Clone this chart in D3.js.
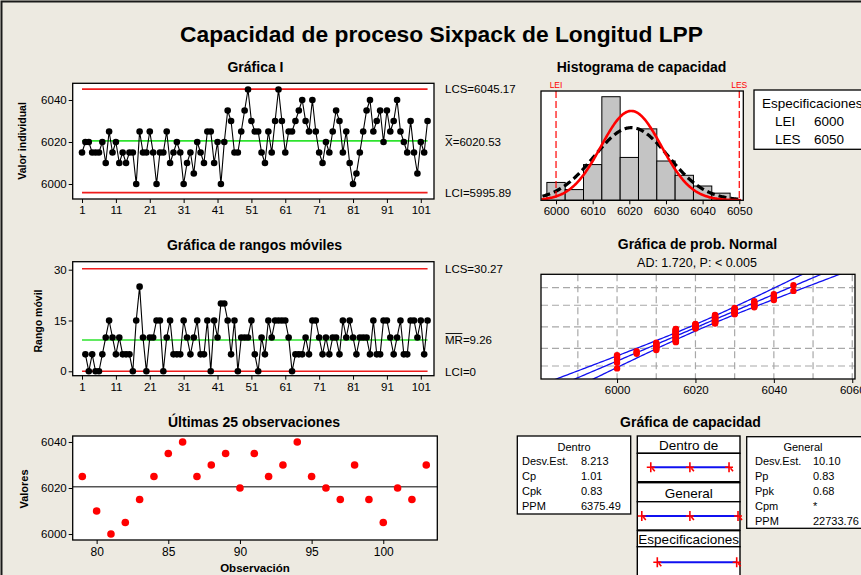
<!DOCTYPE html>
<html><head><meta charset="utf-8">
<script src="https://cdn.jsdelivr.net/npm/d3@7"></script>
<style>body{margin:0;background:#EDEAE1;}svg{display:block;}</style>
</head><body><svg id="c" width="861" height="575"></svg>
<script>
// ---------------- DATA ----------------
const observations = [
 6015,6020,6020,6015,6015,6015,6020,6010,6025,6015,
 6020,6010,6015,6010,6015,6015,6000,6025,6015,6015,
 6025,6015,6000,6015,6015,6025,6010,6015,6020,6015,
 6000,6010,6015,6005,6020,6015,6010,6025,6025,6010,
 6020,6000,6020,6035,6030,6015,6015,6025,6035,6045,
 6030,6025,6025,6015,6010,6025,6015,6030,6045,6030,
 6015,6025,6025,6030,6035,6040,6030,6025,6040,6025,
 6015,6010,6020,6015,6025,6035,6030,6015,6025,6010,
 6000,6005,6015,6025,6035,6040,6025,6030,6035,6020,
 6035,6025,6030,6040,6025,6020,6015,6030,6015,6005,
 6020,6015,6030];
const iXTicks = [1,11,21,31,41,51,61,71,81,91,101];
const iYTicks = [6000,6020,6040];
const mrYTicks = [0,15,30];
const lastXTicks = [80,85,90,95,100];
const lastYTicks = [6000,6020,6040];
const histTicks = [6000,6010,6020,6030,6040,6050];
const probTicks = [6000,6020,6040,6060];
const probGridX = [5990,6000,6010,6020,6030,6040,6050,6060];
const probGridP = [1,10,50,90,99];
const iLimits = [6045.17, 6020.53, 5995.89];       // LCS, center, LCI
const iLimitLabels = ["LCS=6045.17", "=6020.53", "LCI=5995.89"];
const mrLimits = [30.27, 9.26, 0];
const mrLimitLabels = ["LCS=30.27", "=9.26", "LCI=0"];
const specNames = ["LEI", "LES"];
const specValues = [6000, 6050];
const meanValue = 6020.53;
const sdWithin = 8.213;
const sdOverall = 10.10;
const withinNames = ["Desv.Est.", "Cp", "Cpk", "PPM"];
const withinValues = ["8.213", "1.01", "0.83", "6375.49"];
const overallNames = ["Desv.Est.", "Pp", "Ppk", "Cpm", "PPM"];
const overallValues = ["10.10", "0.83", "0.68", "*", "22733.76"];
const adText = "AD: 1.720, P: < 0.005";

// ---------------- HELPERS ----------------
const F = '"Liberation Sans", Arial, sans-serif';
const svg = d3.select('#c');
const RED = '#EE1C1C', GREEN = '#2EE32E', BLUE = '#1010F0';
svg.append('rect').attr('width',861).attr('height',575).attr('fill','#EDEAE1');
svg.append('rect').attr('x',1.5).attr('y',1.5).attr('width',900).attr('height',600)
  .attr('fill','none').attr('stroke','#1a1a1a').attr('stroke-width',2);
const defs = svg.append('defs');
let clipN = 0;
function clip(x0,y0,x1,y1){
  const id='cl'+(clipN++);
  defs.append('clipPath').attr('id',id).append('rect').attr('x',x0).attr('y',y0).attr('width',x1-x0).attr('height',y1-y0);
  return 'url(#'+id+')';
}
function txt(x,y,s,o={}){
  const t = svg.append('text').attr('x',x).attr('y',y).text(s)
    .attr('font-family',F).attr('font-size',o.size||11)
    .attr('font-weight',o.bold?'bold':'normal')
    .attr('text-anchor',o.anchor||'start').attr('fill',o.fill||'#000');
  if(o.rotate) t.attr('transform',`rotate(-90,${x},${y})`);
  return t;
}
function frameBg(x0,y0,x1,y1){
  svg.append('rect').attr('x',x0).attr('y',y0).attr('width',x1-x0).attr('height',y1-y0).attr('fill','#fff');
}
function frameBorder(x0,y0,x1,y1){
  svg.append('rect').attr('x',x0).attr('y',y0).attr('width',x1-x0).attr('height',y1-y0)
    .attr('fill','none').attr('stroke','#000').attr('stroke-width',1.3);
}
function styleAxis(g, size){
  g.attr('font-family',F).attr('font-size',size||11.5);
  g.select('.domain').remove();
  g.selectAll('line').attr('stroke','#000');
  g.selectAll('text').attr('fill','#000');
}
function barLabel(x,y,pre,bar,rest){
  const t = svg.append('text').attr('x',x).attr('y',y).attr('font-family',F).attr('font-size',11.5);
  const a = t.append('tspan').text(bar);
  t.append('tspan').text(rest);
  const w = a.node().getComputedTextLength();
  svg.append('line').attr('x1',x+0.5).attr('x2',x+w-0.5).attr('y1',y-10.5).attr('y2',y-10.5)
    .attr('stroke','#000').attr('stroke-width',0.9);
}
function qnorm(p){
  const a=[-3.969683028665376e+01,2.209460984245205e+02,-2.759285104469687e+02,1.383577518672690e+02,-3.066479806614716e+01,2.506628277459239e+00];
  const b=[-5.447609879822406e+01,1.615858368580409e+02,-1.556989798598866e+02,6.680131188771972e+01,-1.328068155288572e+01];
  const c=[-7.784894002430293e-03,-3.223964580411365e-01,-2.400758277161838e+00,-2.549732539343734e+00,4.374664141464968e+00,2.938163982698783e+00];
  const d=[7.784695709041462e-03,3.224671290700398e-01,2.445134137142996e+00,3.754408661907416e+00];
  const pl=0.02425; let q,r;
  if(p<pl){q=Math.sqrt(-2*Math.log(p));return (((((c[0]*q+c[1])*q+c[2])*q+c[3])*q+c[4])*q+c[5])/((((d[0]*q+d[1])*q+d[2])*q+d[3])*q+1);}
  if(p<=1-pl){q=p-0.5;r=q*q;return (((((a[0]*r+a[1])*r+a[2])*r+a[3])*r+a[4])*r+a[5])*q/(((((b[0]*r+b[1])*r+b[2])*r+b[3])*r+b[4])*r+1);}
  q=Math.sqrt(-2*Math.log(1-p));return -(((((c[0]*q+c[1])*q+c[2])*q+c[3])*q+c[4])*q+c[5])/((((d[0]*q+d[1])*q+d[2])*q+d[3])*q+1);
}
const n = observations.length;
const idx = d3.range(1, n+1);

// ---------------- TITLE ----------------
txt(441.5, 42, 'Capacidad de proceso Sixpack de Longitud LPP', {size:22, bold:true, anchor:'middle'})
  .attr('textLength',523).attr('lengthAdjust','spacingAndGlyphs');

// ---------------- I CHART ----------------
{
  const X0=72.7,Y0=83.3,X1=434,Y1=199;
  const x = d3.scaleLinear().domain([-1.75,104.9]).range([X0,X1]);
  const y = d3.scaleLinear().domain([5992.86,6047.95]).range([Y1,Y0]);
  frameBg(X0,Y0,X1,Y1);
  iLimits.forEach((v,i)=>{
    svg.append('line').attr('x1',x(1)).attr('x2',x(n)).attr('y1',y(v)).attr('y2',y(v))
      .attr('stroke', i===1?GREEN:RED).attr('stroke-width',1.6);
  });
  svg.append('path').datum(observations)
    .attr('d', d3.line().x((d,i)=>x(i+1)).y(d=>y(d)))
    .attr('fill','none').attr('stroke','#000').attr('stroke-width',1.1);
  svg.append('g').selectAll('circle').data(observations).join('circle')
    .attr('cx',(d,i)=>x(i+1)).attr('cy',d=>y(d)).attr('r',3.3).attr('fill','#000');
  frameBorder(X0,Y0,X1,Y1);
  styleAxis(svg.append('g').attr('transform',`translate(0,${Y1})`)
    .call(d3.axisBottom(x).tickValues(iXTicks).tickSize(4).tickPadding(3).tickSizeOuter(0)));
  styleAxis(svg.append('g').attr('transform',`translate(${X0},0)`)
    .call(d3.axisLeft(y).tickValues(iYTicks).tickSize(4).tickPadding(2).tickFormat(d3.format('d'))));
  txt(255.5, 72, 'Gráfica I', {size:14, bold:true, anchor:'middle'});
  txt(26, 141, 'Valor individual', {size:10.5, bold:true, anchor:'middle', rotate:true});
  txt(445, 93, iLimitLabels[0], {size:11.5});
  barLabel(445, 146, '', 'X', iLimitLabels[1]);
  txt(445, 197, iLimitLabels[2], {size:11.5});
}

// ---------------- MR CHART ----------------
{
  const X0=72.7,Y0=261.7,X1=434,Y1=375.7;
  const x = d3.scaleLinear().domain([-1.75,104.9]).range([X0,X1]);
  const y = d3.scaleLinear().domain([-1.3,32.36]).range([Y1,Y0]);
  const mr = observations.slice(1).map((v,i)=>({i:i+2, v:Math.abs(v-observations[i])}));
  frameBg(X0,Y0,X1,Y1);
  mrLimits.forEach((v,i)=>{
    svg.append('line').attr('x1',x(1)).attr('x2',x(n)).attr('y1',y(v)).attr('y2',y(v))
      .attr('stroke', i===1?GREEN:RED).attr('stroke-width',1.6);
  });
  svg.append('path').datum(mr)
    .attr('d', d3.line().x(d=>x(d.i)).y(d=>y(d.v)))
    .attr('fill','none').attr('stroke','#000').attr('stroke-width',1.1);
  svg.append('g').selectAll('circle').data(mr).join('circle')
    .attr('cx',d=>x(d.i)).attr('cy',d=>y(d.v)).attr('r',3.3).attr('fill','#000');
  frameBorder(X0,Y0,X1,Y1);
  styleAxis(svg.append('g').attr('transform',`translate(0,${Y1})`)
    .call(d3.axisBottom(x).tickValues(iXTicks).tickSize(4).tickPadding(3).tickSizeOuter(0)));
  styleAxis(svg.append('g').attr('transform',`translate(${X0},0)`)
    .call(d3.axisLeft(y).tickValues(mrYTicks).tickSize(4).tickPadding(2)));
  txt(254.5, 250, 'Gráfica de rangos móviles', {size:14, bold:true, anchor:'middle'});
  txt(42, 321, 'Rango móvil', {size:10.5, bold:true, anchor:'middle', rotate:true});
  txt(445, 273, mrLimitLabels[0], {size:11.5});
  barLabel(445, 344, '', 'MR', mrLimitLabels[1]);
  txt(445, 376, mrLimitLabels[2], {size:11.5});
}

// ---------------- LAST 25 ----------------
{
  const X0=72.7,Y0=436,X1=437.3,Y1=540;
  const x = d3.scaleLinear().domain([78.33,103.77]).range([X0,X1]);
  const y = d3.scaleLinear().domain([5997.4,6042.6]).range([Y1,Y0]);
  const last = idx.slice(-25).map(i=>({i, v:observations[i-1]}));
  frameBg(X0,Y0,X1,Y1);
  svg.append('line').attr('x1',X0).attr('x2',X1).attr('y1',y(meanValue)).attr('y2',y(meanValue))
    .attr('stroke','#555').attr('stroke-width',1.5);
  svg.append('g').selectAll('circle').data(last).join('circle')
    .attr('cx',d=>x(d.i)).attr('cy',d=>y(d.v)).attr('r',3.8).attr('fill','#F00');
  frameBorder(X0,Y0,X1,Y1);
  styleAxis(svg.append('g').attr('transform',`translate(0,${Y1})`)
    .call(d3.axisBottom(x).tickValues(lastXTicks).tickSize(4).tickPadding(3).tickSizeOuter(0)), 12);
  styleAxis(svg.append('g').attr('transform',`translate(${X0},0)`)
    .call(d3.axisLeft(y).tickValues(lastYTicks).tickSize(4).tickPadding(2).tickFormat(d3.format('d'))));
  txt(254, 427, 'Últimas 25 observaciones', {size:14, bold:true, anchor:'middle'});
  txt(28, 489, 'Valores', {size:11, bold:true, anchor:'middle', rotate:true});
  txt(255, 572, 'Observación', {size:11.5, bold:true, anchor:'middle'});
}

// ---------------- HISTOGRAM ----------------
{
  const X0=541,Y0=91,X1=743.3,Y1=200.3;
  const x = d3.scaleLinear().domain([5995.9,6051.1]).range([X0,X1]);
  const y = d3.scaleLinear().domain([0,30.6]).range([Y1,Y0]);
  const bins = d3.bin().domain([5997.5,6047.5]).thresholds(d3.range(6002.5,6047.5,5))(observations);
  frameBg(X0,Y0,X1,Y1);
  svg.append('g').selectAll('rect').data(bins).join('rect')
    .attr('x',d=>x(d.x0)).attr('width',d=>x(d.x1)-x(d.x0))
    .attr('y',d=>y(d.length)).attr('height',d=>y(0)-y(d.length))
    .attr('fill','#C4C4C4').attr('stroke','#000').attr('stroke-width',1);
  const cp = clip(X0,Y0,X1,Y1);
  const dens = (v,s)=> n*5/(s*Math.sqrt(2*Math.PI))*Math.exp(-0.5*((v-meanValue)/s)**2);
  const xsO = d3.range(5996.3, 6051.0, 0.25);
  const xsW = d3.range(5996.0, 6050.6, 0.25);
  svg.append('path').datum(xsO).attr('clip-path',cp)
    .attr('d', d3.line().x(v=>x(v)).y(v=>y(dens(v,sdOverall))))
    .attr('fill','none').attr('stroke','#000').attr('stroke-width',3.2).attr('stroke-dasharray','8,4');
  svg.append('path').datum(xsW).attr('clip-path',cp)
    .attr('d', d3.line().x(v=>x(v)).y(v=>y(dens(v,sdWithin))))
    .attr('fill','none').attr('stroke','#F00').attr('stroke-width',2.6);
  specValues.forEach((v,i)=>{
    svg.append('line').attr('x1',x(v)).attr('x2',x(v)).attr('y1',Y0).attr('y2',Y1)
      .attr('stroke','#F00').attr('stroke-width',1.2).attr('stroke-dasharray','7,3');
    txt(x(v), 88, specNames[i], {size:8.5, anchor:'middle', fill:'#F00'});
  });
  frameBorder(X0,Y0,X1,Y1);
  styleAxis(svg.append('g').attr('transform',`translate(0,${Y1})`)
    .call(d3.axisBottom(x).tickValues(histTicks).tickSize(4).tickPadding(3).tickSizeOuter(0)).call(g=>g.selectAll('text').text(d=>d)));
  txt(641.5, 72, 'Histograma de capacidad', {size:14, bold:true, anchor:'middle'});
  // spec box
  svg.append('rect').attr('x',754).attr('y',90).attr('width',200).attr('height',59.3)
    .attr('fill','#fff').attr('stroke','#000').attr('stroke-width',1.3);
  txt(762, 108, 'Especificaciones', {size:13.5});
  specNames.forEach((s,i)=>{
    txt(775, 126+i*17.5, s, {size:13.5});
    txt(814, 126+i*17.5, String(specValues[i]), {size:13.5});
  });
}

// ---------------- NORMAL PROB PLOT ----------------
{
  const X0=541,Y0=274.3,X1=855,Y1=379;
  const x = d3.scaleLinear().domain([5980.6,6060.7]).range([X0,X1]);
  const y = d3.scaleLinear().domain([-3.10,3.12]).range([Y1,Y0]);
  frameBg(X0,Y0,X1,Y1);
  const cp = clip(X0,Y0,X1,Y1);
  svg.append('g').selectAll('line').data(probGridX).join('line')
    .attr('x1',d=>x(d)).attr('x2',d=>x(d)).attr('y1',Y0).attr('y2',Y1)
    .attr('stroke','#A8A8A8').attr('stroke-width',1.2).attr('stroke-dasharray','7,4');
  svg.append('g').selectAll('line').data(probGridP).join('line')
    .attr('x1',X0).attr('x2',X1).attr('y1',d=>y(qnorm(d/100))).attr('y2',d=>y(qnorm(d/100)))
    .attr('stroke','#A8A8A8').attr('stroke-width',1.2).attr('stroke-dasharray','7,4');
  const zs = d3.range(-3.4, 3.41, 0.05);
  const band = z => 1.96*sdOverall*Math.sqrt(1/n + z*z/(2*(n-1)));
  [-1,0,1].forEach(k=>{
    svg.append('path').datum(zs).attr('clip-path',cp)
      .attr('d', d3.line().x(z=>x(meanValue+sdOverall*z + k*band(z))).y(z=>y(z)))
      .attr('fill','none').attr('stroke',BLUE).attr('stroke-width',1.3);
  });
  const sorted = observations.slice().sort(d3.ascending);
  svg.append('g').selectAll('circle').data(sorted).join('circle')
    .attr('cx',d=>x(d)).attr('cy',(d,i)=>y(qnorm((i+1-0.3)/(n+0.4)))).attr('r',3.2).attr('fill','#F00');
  frameBorder(X0,Y0,X1,Y1);
  styleAxis(svg.append('g').attr('transform',`translate(0,${Y1})`)
    .call(d3.axisBottom(x).tickValues(probTicks).tickSize(4).tickPadding(3).tickSizeOuter(0)).call(g=>g.selectAll('text').text(d=>d)));
  txt(697.5, 249, 'Gráfica de prob. Normal', {size:14, bold:true, anchor:'middle'});
  txt(697, 267, adText, {size:12.5, anchor:'middle'});
}

// ---------------- CAPABILITY PLOT ----------------
{
  txt(690.5, 427, 'Gráfica de capacidad', {size:14, bold:true, anchor:'middle'});
  // within box
  svg.append('rect').attr('x',517.3).attr('y',436).attr('width',113.4).attr('height',78)
    .attr('fill','#fff').attr('stroke','#000').attr('stroke-width',1.3);
  txt(574, 451, 'Dentro', {size:11, anchor:'middle'});
  withinNames.forEach((s,i)=>{ txt(522, 465+i*15, s, {size:11}); txt(581, 465+i*15, withinValues[i], {size:11}); });
  // overall box
  svg.append('rect').attr('x',746.7).attr('y',436.7).attr('width',150).attr('height',91.6)
    .attr('fill','#fff').attr('stroke','#000').attr('stroke-width',1.3);
  txt(803, 451, 'General', {size:11, anchor:'middle'});
  overallNames.forEach((s,i)=>{ txt(755, 465+i*15, s, {size:11}); txt(813, 465+i*15, overallValues[i], {size:11}); });
  // middle boxes
  const MX0=637.3, MX1=740;
  const boxes = [[436,17.3,'Dentro de',449.8],[453.3,28.4],[482.7,19,'General',497.5],[501.7,28.3],[530.7,16,'Especificaciones',544],[546.7,40]];
  boxes.forEach(b=>{
    svg.append('rect').attr('x',MX0).attr('y',b[0]).attr('width',MX1-MX0).attr('height',b[1])
      .attr('fill','#fff').attr('stroke','#000').attr('stroke-width',1.4);
    if(b[2]) txt((MX0+MX1)/2, b[3], b[2], {size:13.5, anchor:'middle'});
  });
  const xc = d3.scaleLinear().domain([6000,6050]).range([657.3,736.7]);
  const intervals = [
    {y:467.3, lo:meanValue-3*sdWithin, hi:meanValue+3*sdWithin, mid:meanValue},
    {y:516.0, lo:meanValue-3*sdOverall, hi:meanValue+3*sdOverall, mid:meanValue},
    {y:562.3, lo:specValues[0], hi:specValues[1], mid:null}
  ];
  intervals.forEach(iv=>{
    svg.append('line').attr('x1',xc(iv.lo)).attr('x2',xc(iv.hi)).attr('y1',iv.y).attr('y2',iv.y)
      .attr('stroke',BLUE).attr('stroke-width',2);
    const marks = iv.mid===null ? [iv.lo,iv.hi] : [iv.lo,iv.mid,iv.hi];
    marks.forEach(m=>{
      const cx = xc(m);
      svg.append('path').attr('d',`M${cx-4},${iv.y}H${cx+4}M${cx},${iv.y-5}V${iv.y+5}M${cx+1.5},${iv.y+1}L${cx+4},${iv.y+4}`)
        .attr('stroke','#F00').attr('stroke-width',1.6).attr('fill','none');
    });
  });
}
</script></body></html>
